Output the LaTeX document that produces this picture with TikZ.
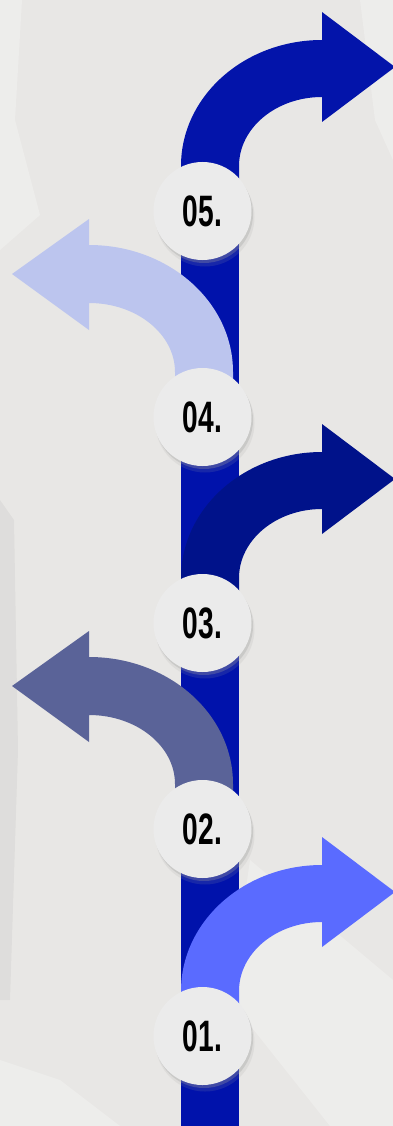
\documentclass[tikz,border=0pt]{standalone}
\usepackage{fontspec}
\newfontfamily\numfont{Liberation Sans}
\definecolor{bgcol}{HTML}{E8E7E5}
\definecolor{barcol}{HTML}{0012AB}
\definecolor{acolA}{HTML}{5A6BFF}
\definecolor{acolB}{HTML}{5A6398}
\definecolor{acolC}{HTML}{00128A}
\definecolor{acolD}{HTML}{BCC5EE}
\definecolor{acolE}{HTML}{0314AA}
\definecolor{circcol}{HTML}{EBEBEB}
\tikzset{
  numcirc/.style={circle, fill=circcol, minimum size=98pt, inner sep=0pt,
    font=\numfont\bfseries\fontsize{44}{44}\selectfont},
  shadowcirc/.style={fill=gray!75, opacity=0.3},
  barstyle/.style={fill=barcol},
  bgpatch/.style={fill=white, opacity=0.25},
}
\newcommand\myRarrow[2]{%
  \fill[#2] (181,{#1}) -- (181,{#1-45})
    arc[start angle=180, end angle=270, x radius=141, y radius=126]
    -- (322,{#1-199}) -- (395,{#1-144}) -- (322,{#1-89}) -- (322,{#1-114})
    arc[start angle=270, end angle=180, x radius=83, y radius=69]
    -- (239,{#1}) -- cycle;}
\newcommand\myLarrow[2]{%
  \fill[#2] (233,{#1}) -- (233,{#1-45})
    arc[start angle=0, end angle=-90, x radius=144, y radius=127]
    -- (89,{#1-198}) -- (12,{#1-143}) -- (89,{#1-87}) -- (89,{#1-114})
    arc[start angle=-90, end angle=0, x radius=86, y radius=69]
    -- (175,{#1}) -- cycle;}
\newcommand\myCirc[3]{%
  \fill[shadowcirc] (204,{#1+3}) circle[radius=49];
  \fill[shadowcirc, opacity=0.15] (205,{#1+6}) circle[radius=49.5];
  \node[numcirc] (#2) at (202.5,{#1}) {\raisebox{-1pt}{\scalebox{0.64}[1]{#3}}};}
\begin{document}
\begin{tikzpicture}[x=1pt,y=-1pt]
\useasboundingbox (0,0) rectangle (393,1126);
% background
\fill[bgcol] (0,0) rectangle (393,1126);
\fill[bgpatch] (0,0) -- (22,0) -- (15,120) -- (40,215) -- (0,250) -- cycle;
\fill[bgpatch] (360,0) -- (393,0) -- (393,160) -- (375,120) -- cycle;
\fill[bgpatch] (250,860) -- (393,980) -- (393,1126) -- (330,1126) -- (230,1000) -- cycle;
\fill[bgpatch] (0,1060) -- (60,1080) -- (120,1126) -- (0,1126) -- cycle;
\fill[black, opacity=0.04] (0,500) -- (14,520) -- (18,750) -- (10,1000) -- (0,1000) -- cycle;
% bar
\fill[barstyle] (181,200) rectangle (239,1126);
% arrows
\myRarrow{211}{acolE}
\myLarrow{417}{acolD}
\myRarrow{623}{acolC}
\myLarrow{829}{acolB}
\myRarrow{1036}{acolA}
% circles
\myCirc{211}{c5}{05.}
\myCirc{417}{c4}{04.}
\myCirc{623}{c3}{03.}
\myCirc{829}{c2}{02.}
\myCirc{1036}{c1}{01.}
\end{tikzpicture}
\end{document}
